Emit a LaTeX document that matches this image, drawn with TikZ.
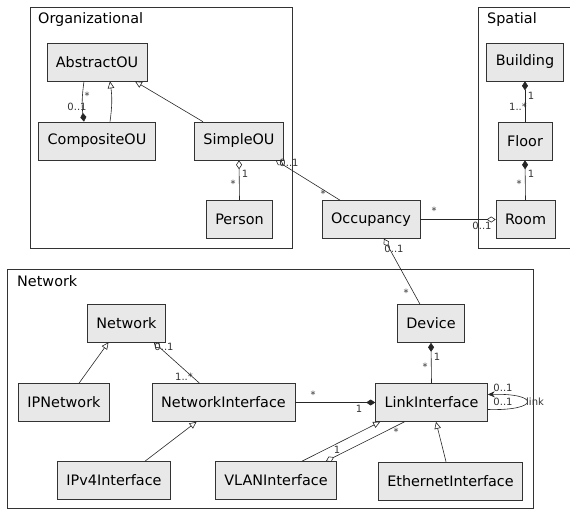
\documentclass[tikz,border=0pt]{standalone}
\usepackage{fontspec}
\setmainfont{DejaVu Sans}
\usetikzlibrary{arrows.meta}

\begin{document}
\begin{tikzpicture}[x=1pt,y=-1pt,
  font=\fontsize{14.4}{16}\selectfont,
  cls/.style={draw=black!80,fill=black!9,line width=.6pt,minimum height=38pt,inner xsep=9pt},
  frame/.style={draw=black!80,line width=.6pt},
  title/.style={anchor=west,inner sep=0pt},
  mult/.style={font=\fontsize{10}{11}\selectfont,text=black!80,inner sep=0pt},
  assoc/.style={draw=black!85,line width=.6pt},
  gen/.style={assoc,-{Triangle[open,length=7pt,width=6.5pt]}},
  comp/.style={assoc,{Diamond[length=9pt,width=6pt]}-},
  aggr/.style={assoc,{Diamond[open,length=9pt,width=6pt]}-}]
\useasboundingbox (0,0) rectangle (570,509);
% packages
\draw[frame] (30,7) rectangle (292,248);
\node[title] (tOrg) at (38,20) {Organizational};
\draw[frame] (478,7) rectangle (575,248);
\node[title] (tSpat) at (487,20) {Spatial};
\draw[frame] (7,269) rectangle (533,508);
\node[title] (tNet) at (17,281) {Network};
% classes
\node[cls] (AbstractOU) at (97,62) {AbstractOU};
\node[cls] (CompositeOU) at (97,141) {CompositeOU};
\node[cls] (SimpleOU) at (239,141) {SimpleOU};
\node[cls] (Person) at (239.5,219.5) {Person};
\node[cls] (Building) at (525,62) {Building};
\node[cls] (Floor) at (525,141) {Floor};
\node[cls] (Room) at (525.5,219.5) {Room};
\node[cls] (Occupancy) at (371,219.5) {Occupancy};
\node[cls] (Network) at (126.5,323) {Network};
\node[cls] (IPNetwork) at (64,402.5) {IPNetwork};
\node[cls] (NetworkInterface) at (223.5,402.5) {NetworkInterface};
\node[cls] (IPv4Interface) at (114,480.5) {IPv4Interface};
\node[cls] (VLANInterface) at (276,480.5) {VLANInterface};
\node[cls] (Device) at (431,323.5) {Device};
\node[cls] (LinkInterface) at (431.5,402.5) {LinkInterface};
\node[cls] (EthernetInterface) at (450.5,481) {EthernetInterface};
% organizational
\draw[comp] ([xshift=-13pt]CompositeOU.north) to[bend left=8] ([xshift=-13pt]AbstractOU.south);
\node[mult] (m1) at (87,96) {*};
\node[mult] (m2) at (77,107) {0..1};
\draw[gen] ([xshift=13pt]CompositeOU.north) to[bend right=8] ([xshift=13pt]AbstractOU.south);
\draw[gen] ([xshift=-36pt]SimpleOU.north) -- ([xshift=38pt]AbstractOU.south);
\draw[aggr] (SimpleOU.south) -- (Person.north);
\node[mult] (m3) at (245,174) {1};
\node[mult] (m4) at (233,184) {*};
\draw[aggr] ([xshift=-8pt]SimpleOU.south east) -- ([xshift=-31pt]Occupancy.north);
\node[mult] (m5) at (289,163) {0..1};
\node[mult] (m6) at (323,194) {*};
% spatial
\draw[aggr] (Room.west) -- (Occupancy.east);
\node[mult] (m7) at (434,211) {*};
\node[mult] (m8) at (482,226) {0..1};
\draw[comp] (Building.south) -- (Floor.north);
\node[mult] (m9) at (531,96) {1};
\node[mult] (m10) at (518,107) {1..*};
\draw[comp] (Floor.south) -- (Room.north);
\node[mult] (m11) at (531,174) {1};
\node[mult] (m12) at (519,184) {*};
% network
\draw[aggr] ([xshift=13pt]Occupancy.south) -- ([xshift=-11pt]Device.north);
\node[mult] (m13) at (394,249) {0..1};
\node[mult] (m14) at (406,293) {*};
\draw[gen] ([xshift=15pt]IPNetwork.north) -- ([xshift=-18pt]Network.south);
\draw[aggr] ([xshift=-12pt]Network.south east) -- ([xshift=-24pt]NetworkInterface.north);
\node[mult] (m15) at (164,347) {0..1};
\node[mult] (m16) at (184,377) {1..*};
\draw[gen] ([xshift=31pt]IPv4Interface.north) -- ([xshift=-27pt]NetworkInterface.south);
\draw[comp] (LinkInterface.west) -- (NetworkInterface.east);
\node[mult] (m17) at (313,395) {*};
\node[mult] (m18) at (359,409) {1};
\draw[comp] (Device.south) -- (LinkInterface.north);
\node[mult] (m19) at (437,357) {1};
\node[mult] (m20) at (425,367) {*};
\draw[assoc,-{Stealth[length=7pt,width=6pt]}] ([yshift=-7pt]LinkInterface.east)
  .. controls (540,411) and (540,393) .. ([yshift=8pt]LinkInterface.east);
\node[mult] (m21) at (503,388) {0..1};
\node[mult] (m22) at (503,402) {0..1};
\node[mult,anchor=west] (m23) at (526,402) {link};
\draw[gen] ([xshift=26pt]VLANInterface.north) -- ([xshift=5pt]LinkInterface.south west);
\node[mult] (m24) at (337,450) {1};
\draw[aggr] ([xshift=-11pt]VLANInterface.north east) -- ([xshift=-27pt]LinkInterface.south);
\node[mult] (m25) at (396,432) {*};
\draw[gen] ([xshift=-4.5pt]EthernetInterface.north) -- ([xshift=4.5pt]LinkInterface.south);
\end{tikzpicture}
\end{document}
